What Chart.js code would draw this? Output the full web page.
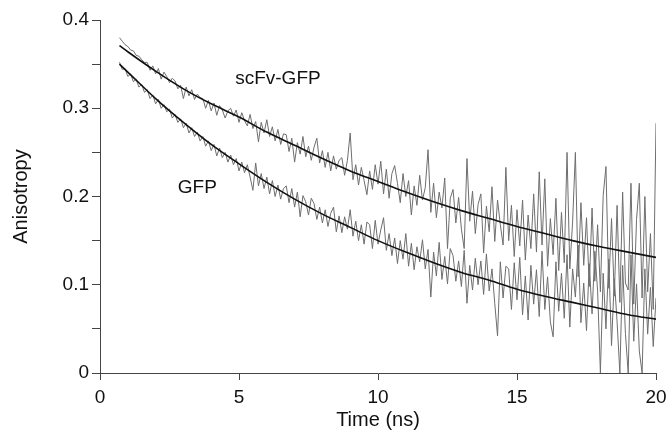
<!DOCTYPE html>
<html>
<head>
<meta charset="utf-8">
<script src="https://cdn.jsdelivr.net/npm/chart.js@4.4.1/dist/chart.umd.min.js"></script>
<style>
  html, body { margin: 0; padding: 0; background: #fff; }
  #wrap { width: 666px; height: 433px; position: relative; }
</style>
</head>
<body>
<div id="wrap"><canvas id="anisoChart"></canvas></div>
<script>
// --- data ---
const timeNs = [
  0.7,0.8,0.9,1.0,1.1,1.2,1.3,1.4,1.5,1.6, 1.7,1.8,1.9,2.0,2.1,2.2,2.3,2.4,2.5,2.6,
  2.7,2.8,2.9,3.0,3.1,3.2,3.3,3.4,3.5,3.6, 3.7,3.8,3.9,4.0,4.1,4.2,4.3,4.4,4.5,4.6,
  4.7,4.8,4.9,5.0,5.1,5.2,5.3,5.4,5.5,5.6, 5.7,5.8,5.9,6.0,6.1,6.2,6.3,6.4,6.5,6.6,
  6.7,6.8,6.9,7.0,7.1,7.2,7.3,7.4,7.5,7.6, 7.7,7.8,7.9,8.0,8.1,8.2,8.3,8.4,8.5,8.6,
  8.7,8.8,8.9,9.0,9.1,9.2,9.3,9.4,9.5,9.6, 9.7,9.8,9.9,10.0,10.1,10.2,10.3,10.4,10.5,10.6,
  10.7,10.8,10.9,11.0,11.1,11.2,11.3,11.4,11.5,11.6, 11.7,11.8,11.9,12.0,12.1,12.2,12.3,12.4,12.5,12.6,
  12.7,12.8,12.9,13.0,13.1,13.2,13.3,13.4,13.5,13.6, 13.7,13.8,13.9,14.0,14.1,14.2,14.3,14.4,14.5,14.6,
  14.7,14.8,14.9,15.0,15.1,15.2,15.3,15.4,15.5,15.6, 15.7,15.8,15.9,16.0,16.1,16.2,16.3,16.4,16.5,16.6,
  16.7,16.8,16.9,17.0,17.1,17.2,17.3,17.4,17.5,17.6, 17.7,17.8,17.9,18.0,18.1,18.2,18.3,18.4,18.5,18.6,
  18.7,18.8,18.9,19.0,19.1,19.2,19.3,19.4,19.5,19.6, 19.7,19.8,19.9,20.0
];

// scFv-GFP measured anisotropy (grey trace)
const scFvData = [
  0.380,0.376,0.372,0.370,0.366,0.365,0.360,0.359,0.355,0.352,
  0.352,0.343,0.348,0.339,0.345,0.333,0.341,0.336,0.329,0.334,
  0.331,0.322,0.326,0.311,0.324,0.314,0.321,0.310,0.316,0.312,
  0.311,0.300,0.309,0.297,0.306,0.292,0.303,0.298,0.289,0.297,
  0.300,0.291,0.298,0.284,0.295,0.286,0.280,0.293,0.277,0.285,
  0.262,0.284,0.272,0.287,0.268,0.279,0.263,0.276,0.259,0.271,
  0.270,0.251,0.266,0.239,0.261,0.248,0.268,0.245,0.257,0.241,
  0.256,0.266,0.238,0.252,0.233,0.250,0.229,0.246,0.231,0.241,
  0.244,0.224,0.241,0.272,0.219,0.236,0.213,0.233,0.218,0.202,
  0.229,0.208,0.236,0.214,0.240,0.203,0.231,0.198,0.226,0.235,
  0.215,0.193,0.226,0.200,0.218,0.179,0.212,0.190,0.224,0.196,
  0.210,0.253,0.182,0.215,0.176,0.205,0.187,0.221,0.141,0.198,
  0.208,0.170,0.199,0.163,0.141,0.243,0.172,0.206,0.158,0.191,
  0.203,0.136,0.189,0.160,0.211,0.149,0.196,0.168,0.145,0.233,
  0.150,0.190,0.132,0.185,0.144,0.196,0.128,0.179,0.141,0.203,
  0.137,0.228,0.145,0.220,0.121,0.175,0.134,0.198,0.116,0.182,
  0.125,0.250,0.118,0.171,0.250,0.109,0.193,0.122,0.176,0.098,
  0.187,0.104,0.168,0.092,0.201,0.234,0.096,0.175,0.087,0.190,
  0.080,0.205,0.102,0.094,0.215,0.078,0.174,0.215,0.085,0.200,
  0.092,0.158,0.072,0.283
];

// GFP measured anisotropy (grey trace)
const gfpData = [
  0.352,0.344,0.345,0.336,0.339,0.330,0.333,0.324,0.327,0.318,
  0.321,0.311,0.315,0.305,0.310,0.300,0.304,0.296,0.299,0.289,
  0.293,0.284,0.288,0.278,0.283,0.272,0.278,0.268,0.273,0.263,
  0.268,0.257,0.263,0.252,0.259,0.246,0.255,0.244,0.250,0.239,
  0.247,0.236,0.243,0.229,0.239,0.227,0.236,0.222,0.207,0.238,
  0.212,0.226,0.209,0.222,0.203,0.218,0.200,0.213,0.197,0.209,
  0.212,0.193,0.209,0.188,0.205,0.177,0.201,0.194,0.179,0.198,
  0.192,0.174,0.188,0.170,0.185,0.166,0.181,0.188,0.160,0.178,
  0.159,0.177,0.163,0.185,0.155,0.172,0.150,0.168,0.146,0.171,
  0.168,0.141,0.173,0.146,0.162,0.176,0.139,0.158,0.133,0.153,
  0.124,0.150,0.129,0.158,0.121,0.147,0.117,0.143,0.126,0.151,
  0.118,0.140,0.086,0.137,0.110,0.148,0.106,0.132,0.101,0.141,
  0.133,0.104,0.127,0.098,0.139,0.079,0.122,0.094,0.130,0.100,
  0.127,0.089,0.135,0.093,0.118,0.079,0.042,0.126,0.085,0.121,
  0.118,0.072,0.125,0.083,0.131,0.066,0.110,0.060,0.122,0.078,
  0.117,0.064,0.138,0.072,0.109,0.058,0.041,0.126,0.070,0.113,
  0.062,0.134,0.052,0.118,0.086,0.145,0.057,0.102,0.048,0.124,
  0.067,0.138,0.093,0.000,0.113,0.050,0.129,0.031,0.107,0.058,
  0.000,0.122,0.045,0.000,0.134,0.036,0.101,0.025,0.000,0.118,
  0.044,0.097,0.030,0.085
];

// fitted decay curves (black lines)
const fitTime = [0.7,1,2,3,4,5,6,7,8,9,10,11,12,13,14,15,16,17,18,19,20];
const scFvFit = [0.371,0.364,0.342,0.322,0.305,0.290,0.273,0.258,0.243,0.229,0.217,0.205,0.194,0.184,0.175,0.166,0.158,0.150,0.143,0.137,0.131];
const gfpFit  = [0.350,0.341,0.311,0.284,0.259,0.237,0.216,0.197,0.180,0.165,0.150,0.137,0.125,0.114,0.105,0.095,0.087,0.080,0.073,0.066,0.061];

// curve labels (data coordinates)
const curveLabels = [
  { text: 'scFv-GFP', x: 6.4, y: 0.333 },
  { text: 'GFP', x: 3.5, y: 0.2096 }
];

const FONT = "'Liberation Sans', Arial, Helvetica, sans-serif";
const pairs = (xs, ys) => xs.map((x, i) => ({ x: x, y: ys[i] }));

const labelPlugin = {
  id: 'curveLabels',
  afterDatasetsDraw(chart) {
    const { ctx, scales } = chart;
    ctx.save();
    ctx.font = '19px ' + FONT;
    ctx.fillStyle = '#111';
    ctx.textAlign = 'center';
    ctx.textBaseline = 'middle';
    curveLabels.forEach(l => {
      ctx.fillText(l.text, scales.x.getPixelForValue(l.x), scales.y.getPixelForValue(l.y));
    });
    ctx.restore();
  }
};

const ctx = document.getElementById('anisoChart').getContext('2d');
new Chart(ctx, {
  type: 'line',
  data: {
    datasets: [
      { data: pairs(fitTime, scFvFit), borderColor: '#111', borderWidth: 1.6, pointRadius: 0, tension: 0.4, cubicInterpolationMode: 'monotone', order: 0 },
      { data: pairs(fitTime, gfpFit), borderColor: '#111', borderWidth: 1.6, pointRadius: 0, tension: 0.4, cubicInterpolationMode: 'monotone', order: 0 },
      { data: pairs(timeNs, scFvData), borderColor: '#6e6e6e', borderWidth: 1, pointRadius: 0, tension: 0, order: 1 },
      { data: pairs(timeNs, gfpData), borderColor: '#6e6e6e', borderWidth: 1, pointRadius: 0, tension: 0, order: 1 }
    ]
  },
  options: {
    responsive: true,
    maintainAspectRatio: false,
    animation: false,
    layout: { padding: { top: 20, right: 10, left: 0, bottom: 0 } },
    plugins: {
      legend: { display: false },
      tooltip: { enabled: false }
    },
    scales: {
      x: {
        type: 'linear',
        min: 0, max: 20,
        afterFit: s => { s.height = 60; s.paddingRight = 0; s.paddingLeft = 0; },
        border: { display: true, color: '#444', width: 1 },
        grid: { display: true, drawOnChartArea: false, tickLength: 7, tickColor: '#444' },
        ticks: { stepSize: 5, color: '#111', padding: 6, maxRotation: 0, font: { family: FONT, size: 19 } },
        title: { display: true, text: 'Time (ns)', color: '#111', padding: { top: 0, bottom: 1 }, font: { family: FONT, size: 20 } }
      },
      y: {
        type: 'linear',
        min: 0, max: 0.4,
        afterFit: s => { s.width = 100; s.paddingTop = 0; s.paddingBottom = 0; },
        border: { display: true, color: '#444', width: 1 },
        grid: { display: true, drawOnChartArea: false, tickLength: 8, tickColor: '#444' },
        ticks: {
          stepSize: 0.05,
          color: '#111',
          padding: 3,
          font: { family: FONT, size: 19 },
          callback: v => {
            const r = Math.round(v * 100);
            if (r % 10 !== 0) return '';
            return r === 0 ? '0' : (r / 100).toFixed(1);
          }
        },
        title: { display: true, text: 'Anisotropy', color: '#111', padding: { top: 9, bottom: 0 }, font: { family: FONT, size: 20 } }
      }
    }
  },
  plugins: [labelPlugin]
});
</script>
</body>
</html>
